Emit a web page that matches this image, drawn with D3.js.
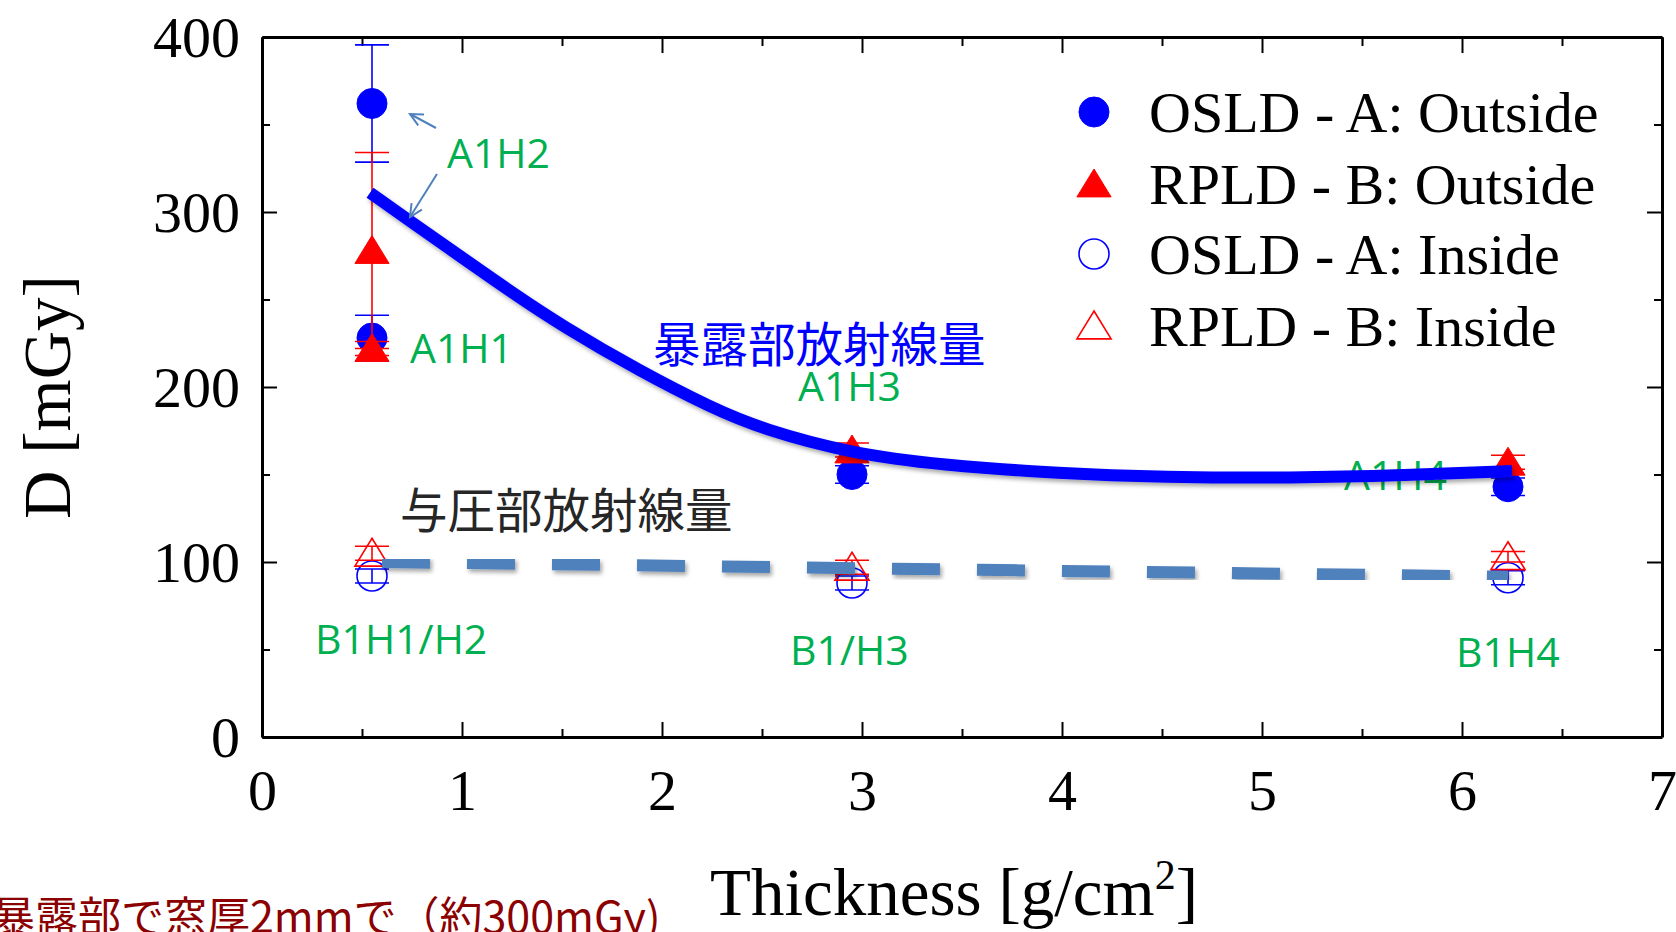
<!DOCTYPE html>
<html>
<head>
<meta charset="utf-8">
<script src="https://cdn.jsdelivr.net/npm/d3@7"></script>
<style>
  html, body { margin: 0; padding: 0; background: #fff; overflow: hidden; }
  svg { display: block; }
</style>
</head>
<body>
<script>
// Dose vs. shield thickness: OSLD (A) and RPLD (B) readings outside / inside
const xTicks = [0, 1, 2, 3, 4, 5, 6, 7];
const xMinorTicks = [0.5, 1.5, 2.5, 3.5, 4.5, 5.5, 6.5];
const yTicks = [0, 100, 200, 300, 400];
const yMinorTicks = [50, 150, 250, 350];

// OSLD - A: Outside (filled circles)
const osldOutX = [0.55, 0.55, 2.95, 6.23];
const osldOutY = [362, 228, 150, 143];
const osldOutErr = [33.5, 13, 5, 5];

// RPLD - B: Outside (filled triangles)
const rpldOutX = [0.55, 0.55, 2.95, 6.23];
const rpldOutY = [278, 222, 164, 157];
const rpldOutErr = [56, 4, 4, 4];

// OSLD - A: Inside (open circles)
const osldInX = [0.55, 2.95, 6.23];
const osldInY = [92, 88, 91];
const osldInErr = [4, 4, 4];

// RPLD - B: Inside (open triangles)
const rpldInX = [0.55, 2.95, 6.23];
const rpldInY = [105, 97, 103];
const rpldInErr = [4, 4, 3];

// Trend through the exposed-side doses
const fitOutX = [0.54, 0.75, 1.0, 1.25, 1.5, 1.89, 2.25, 2.5, 2.95, 3.39, 4.0, 4.5, 5.16, 5.7, 6.25];
const fitOutY = [311, 294, 274, 254, 235, 209, 188, 176, 162, 155.5, 150.5, 148.5, 148, 149.5, 152];

// Trend through the pressurised-side doses
const fitInX = [0.6, 6.23];
const fitInY = [100, 91.6];

// Sample position labels
const sampleLabels = ["A1H2", "A1H1", "A1H3", "A1H4", "B1H1/H2", "B1/H3", "B1H4"];
const sampleLabelX = [0.925, 0.74, 2.68, 5.41, 0.265, 2.64, 5.97];
const sampleLabelY = [325, 214, 192, 141, 47.5, 41, 40];

const legendLabels = ["OSLD - A: Outside", "RPLD - B: Outside", "OSLD - A: Inside", "RPLD - B: Inside"];

const W = 1676, H = 932;
const svg = d3.select("body").append("svg").attr("width", W).attr("height", H);

const x = d3.scaleLinear().domain([0, 7]).range([262, 1662]);
const y = d3.scaleLinear().domain([0, 400]).range([737, 37]);

const BLUE = "#0000ff", RED = "#ff0000", GREEN = "#00b050", STEEL = "#4f81bd";
const serif = "'Times New Roman', 'Liberation Serif', serif";

const defs = svg.append("defs");
const shadow = defs.append("filter").attr("id", "shadow")
  .attr("x", "-5%").attr("y", "-20%").attr("width", "110%").attr("height", "140%");
shadow.append("feDropShadow").attr("dx", 2).attr("dy", 3).attr("stdDeviation", 2)
  .attr("flood-color", "#000").attr("flood-opacity", 0.35);

// Triangle marker as a d3 symbol type
const symbolTri = {
  draw(ctx, size) {
    const hw = Math.sqrt(size) * 0.57, up = Math.sqrt(size) * 0.5, dn = Math.sqrt(size) * 0.43;
    ctx.moveTo(0, -up);
    ctx.lineTo(hw, dn);
    ctx.lineTo(-hw, dn);
    ctx.closePath();
  }
};
const circlePath = d3.symbol(d3.symbolCircle, Math.PI * 15 * 15)();
const triPath = d3.symbol(symbolTri, 900)();

// ---- axes ----
function styleAxis(g) {
  g.select(".domain").attr("stroke", "#000").attr("stroke-width", 3);
  g.selectAll(".tick line").attr("stroke", "#000").attr("stroke-width", 2);
  g.selectAll("text").attr("fill", "#000").attr("font-family", serif).attr("font-size", 58);
}

const axB = svg.append("g").attr("transform", `translate(0,${y(0)})`)
  .call(d3.axisBottom(x).tickValues(xTicks).tickSizeInner(-15).tickSizeOuter(0).tickPadding(32).tickFormat(d3.format("d")));
styleAxis(axB);
const axBm = svg.append("g").attr("transform", `translate(0,${y(0)})`)
  .call(d3.axisBottom(x).tickValues(xMinorTicks).tickSizeInner(-8).tickSizeOuter(0).tickFormat(() => ""));
styleAxis(axBm);
axBm.select(".domain").remove();

const axT = svg.append("g").attr("transform", `translate(0,${y(400)})`)
  .call(d3.axisTop(x).tickValues(xTicks).tickSizeInner(-16).tickSizeOuter(0).tickFormat(() => ""));
styleAxis(axT);
const axTm = svg.append("g").attr("transform", `translate(0,${y(400)})`)
  .call(d3.axisTop(x).tickValues(xMinorTicks).tickSizeInner(-9).tickSizeOuter(0).tickFormat(() => ""));
styleAxis(axTm);
axTm.select(".domain").remove();

const axL = svg.append("g").attr("transform", `translate(${x(0)},0)`)
  .call(d3.axisLeft(y).tickValues(yTicks).tickSizeInner(-15).tickSizeOuter(0).tickPadding(22).tickFormat(d3.format("d")));
styleAxis(axL);
axL.selectAll("text").attr("dy", "0.34em");
const axLm = svg.append("g").attr("transform", `translate(${x(0)},0)`)
  .call(d3.axisLeft(y).tickValues(yMinorTicks).tickSizeInner(-8).tickSizeOuter(0).tickFormat(() => ""));
styleAxis(axLm);
axLm.select(".domain").remove();

const axR = svg.append("g").attr("transform", `translate(${x(7)},0)`)
  .call(d3.axisRight(y).tickValues(yTicks).tickSizeInner(-15).tickSizeOuter(0).tickFormat(() => ""));
styleAxis(axR);
const axRm = svg.append("g").attr("transform", `translate(${x(7)},0)`)
  .call(d3.axisRight(y).tickValues(yMinorTicks).tickSizeInner(-8).tickSizeOuter(0).tickFormat(() => ""));
styleAxis(axRm);
axRm.select(".domain").remove();

// axis titles
const xt = svg.append("text").attr("x", 954).attr("y", 915).attr("text-anchor", "middle")
  .attr("font-family", serif).attr("font-size", 67).attr("fill", "#000");
xt.append("tspan").text("Thickness [g/cm");
xt.append("tspan").attr("font-size", 42).attr("dy", -26).text("2");
xt.append("tspan").attr("dy", 26).text("]");

svg.append("text").attr("transform", "translate(70,397) rotate(-90)").attr("text-anchor", "middle")
  .attr("font-family", serif).attr("font-size", 67).attr("fill", "#000").text("D [mGy]");

// ---- error bars + markers ----
function series(xs, ys, errs, color, path, filled) {
  const data = xs.map((v, i) => ({ x: v, y: ys[i], e: errs[i] }));
  const g = svg.append("g");
  const eb = g.selectAll("g.eb").data(data).join("g").attr("class", "eb")
    .attr("stroke", color).attr("stroke-width", 1.6).attr("fill", "none");
  eb.append("line").attr("x1", d => x(d.x)).attr("x2", d => x(d.x))
    .attr("y1", d => y(d.y + d.e)).attr("y2", d => y(d.y - d.e));
  eb.append("line").attr("x1", d => x(d.x) - 17).attr("x2", d => x(d.x) + 17)
    .attr("y1", d => y(d.y + d.e)).attr("y2", d => y(d.y + d.e));
  eb.append("line").attr("x1", d => x(d.x) - 17).attr("x2", d => x(d.x) + 17)
    .attr("y1", d => y(d.y - d.e)).attr("y2", d => y(d.y - d.e));
  g.selectAll("path.m").data(data).join("path").attr("class", "m")
    .attr("d", path)
    .attr("transform", d => `translate(${x(d.x)},${y(d.y)})`)
    .attr("fill", filled ? color : "none")
    .attr("stroke", color).attr("stroke-width", filled ? 1 : 1.6);
}

series(osldInX, osldInY, osldInErr, BLUE, circlePath, false);
series(rpldInX, rpldInY, rpldInErr, RED, triPath, false);
series(osldOutX, osldOutY, osldOutErr, BLUE, circlePath, true);
series(rpldOutX, rpldOutY, rpldOutErr, RED, triPath, true);

// ---- sample labels ----
svg.append("g").selectAll("text").data(sampleLabels).join("text")
  .attr("x", (d, i) => x(sampleLabelX[i]))
  .attr("y", (d, i) => y(sampleLabelY[i]))
  .attr("font-family", "'Open Sans', 'Noto Sans', sans-serif")
  .attr("font-size", 41).attr("fill", GREEN)
  .text(d => d);

// ---- trend lines ----
const fitOut = fitOutX.map((v, i) => [v, fitOutY[i]]);
const fitIn = fitInX.map((v, i) => [v, fitInY[i]]);

svg.append("path").datum(fitIn)
  .attr("d", d3.line().x(d => x(d[0])).y(d => y(d[1])))
  .attr("fill", "none").attr("stroke", STEEL).attr("stroke-width", 12)
  .attr("stroke-dasharray", "48 37").attr("filter", "url(#shadow)");

svg.append("path").datum(fitOut)
  .attr("d", d3.line().curve(d3.curveBasis).x(d => x(d[0])).y(d => y(d[1])))
  .attr("fill", "none").attr("stroke", BLUE).attr("stroke-width", 12)
  .attr("filter", "url(#shadow)");

// ---- arrows pointing at A1H2 ----
const arrowTail = [[436, 128], [437, 174]];
const arrowTip = [[410, 114], [410, 217]];
const ag = svg.append("g").attr("stroke", STEEL).attr("stroke-width", 2).attr("fill", "none");
arrowTail.forEach((t, i) => {
  const p = arrowTip[i];
  const ang = Math.atan2(p[1] - t[1], p[0] - t[0]);
  const L = 14, spread = 0.45;
  ag.append("line").attr("x1", t[0]).attr("y1", t[1]).attr("x2", p[0]).attr("y2", p[1]);
  ag.append("path").attr("d",
    `M${p[0] - L * Math.cos(ang - spread)},${p[1] - L * Math.sin(ang - spread)}` +
    `L${p[0]},${p[1]}` +
    `L${p[0] - L * Math.cos(ang + spread)},${p[1] - L * Math.sin(ang + spread)}`);
});

// ---- Japanese notes ----
const cjk = "'Noto Sans CJK JP', 'Noto Sans', sans-serif";
svg.append("text").attr("x", 653).attr("y", 362).attr("font-family", cjk).attr("font-size", 47.5)
  .attr("fill", BLUE).text("暴露部放射線量");
svg.append("text").attr("x", 400).attr("y", 528).attr("font-family", cjk).attr("font-size", 47.5)
  .attr("fill", "#262626").text("与圧部放射線量");
svg.append("text").attr("x", -8).attr("y", 933).attr("font-family", cjk).attr("font-size", 43)
  .attr("fill", "#8b0000").text("暴露部で窓厚2mmで（約300mGy)");

// ---- legend ----
const legendRowY = [112, 184, 254, 326];
const legendSym = [
  { p: circlePath, c: BLUE, f: true },
  { p: triPath, c: RED, f: true },
  { p: circlePath, c: BLUE, f: false },
  { p: triPath, c: RED, f: false }
];
const lg = svg.append("g");
const li = lg.selectAll("g").data(legendLabels).join("g")
  .attr("transform", (d, i) => `translate(0,${legendRowY[i]})`);
li.append("path").attr("d", (d, i) => legendSym[i].p)
  .attr("transform", "translate(1094,0)")
  .attr("fill", (d, i) => legendSym[i].f ? legendSym[i].c : "none")
  .attr("stroke", (d, i) => legendSym[i].c)
  .attr("stroke-width", (d, i) => legendSym[i].f ? 1 : 1.6);
li.append("text").attr("x", 1149).attr("y", 20)
  .attr("font-family", serif).attr("font-size", 58).attr("fill", "#000").text(d => d);
</script>
</body>
</html>
